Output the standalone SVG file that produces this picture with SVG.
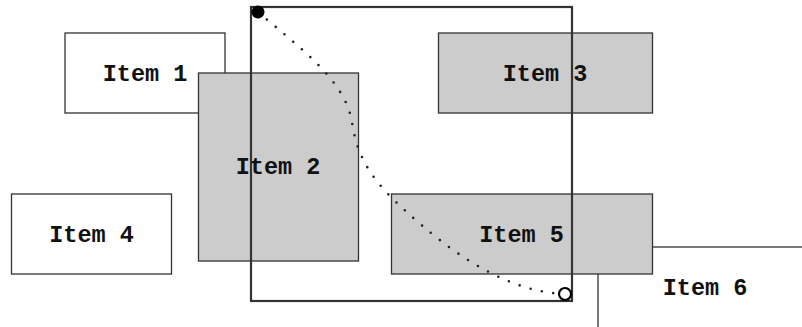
<svg xmlns="http://www.w3.org/2000/svg" width="802" height="327" viewBox="0 0 802 327">
<style>
.box{stroke:#333;stroke-width:1.3;}
.white{fill:#fff;}
.grey{fill:#ccc;}
.lbl{font-family:"Liberation Mono","DejaVu Sans Mono",monospace;font-weight:bold;font-size:23.5px;fill:#111;text-anchor:middle;dominant-baseline:central;}
.frame{fill:none;stroke:#333;stroke-width:2.2;}
.conn{fill:none;stroke:#222;stroke-width:2.6;stroke-linecap:round;stroke-dasharray:0 11.5;}
</style>
<defs>
<marker id="startDot" markerUnits="userSpaceOnUse" markerWidth="16" markerHeight="16" refX="8" refY="8" orient="auto">
<circle cx="8" cy="8" r="6.5" fill="#000"/>
</marker>
<marker id="endCircle" markerUnits="userSpaceOnUse" markerWidth="18" markerHeight="18" refX="9" refY="9" orient="auto">
<circle cx="9" cy="9" r="6" fill="#fff" stroke="#000" stroke-width="2.2"/>
</marker>
</defs>
<g id="item1"><rect class="box white" x="65" y="33" width="160" height="80"/><text class="lbl" x="145" y="74">Item 1</text></g>
<g id="item2"><rect class="box grey" x="198.5" y="73" width="160" height="188"/><text class="lbl" x="278" y="167">Item 2</text></g>
<g id="item3"><rect class="box grey" x="438.5" y="33" width="214" height="80"/><text class="lbl" x="545" y="74">Item 3</text></g>
<g id="item4"><rect class="box white" x="11.5" y="194" width="160" height="80"/><text class="lbl" x="91.5" y="235">Item 4</text></g>
<g id="item6"><rect class="box white" x="598" y="247" width="214" height="90"/><text class="lbl" x="705" y="288">Item 6</text></g>
<g id="item5"><rect class="box grey" x="391.5" y="194" width="261" height="80"/><text class="lbl" x="521.5" y="235">Item 5</text></g>
<g id="frame"><rect class="frame" x="251" y="7" width="321" height="294"/></g>
<g id="connectors">
<path class="conn" d="M258,12 C300,48 345,80 352,122 C358,165 380,188 410,215 C440,242 500,292 565,294" marker-start="url(#startDot)" marker-end="url(#endCircle)"/>
</g>
</svg>
